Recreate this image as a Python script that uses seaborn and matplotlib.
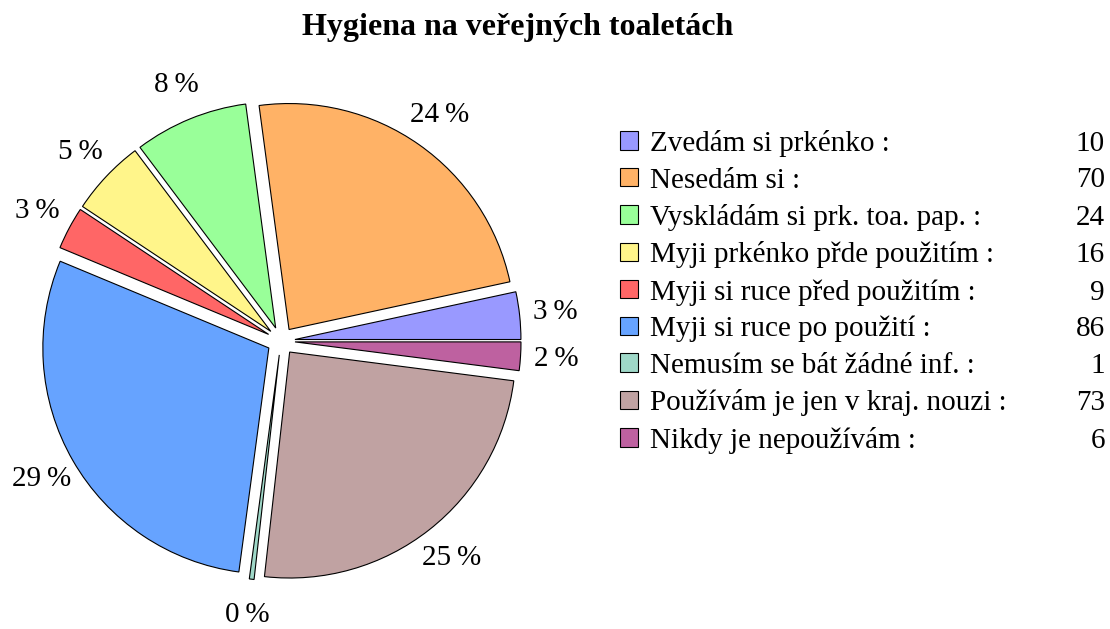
import matplotlib
matplotlib.use("Agg")
import matplotlib.pyplot as plt
import seaborn as sns

# Data
labels = [
    "Zvedám si prkénko :",
    "Nesedám si :",
    "Vyskládám si prk. toa. pap. :",
    "Myji prkénko přde použitím :",
    "Myji si ruce před použitím :",
    "Myji si ruce po použití :",
    "Nemusím se bát žádné inf. :",
    "Používám je jen v kraj. nouzi :",
    "Nikdy je nepoužívám :",
]
counts = [10, 70, 24, 16, 9, 86, 1, 73, 6]
colors = ["#9999ff", "#ffb266", "#99ff99", "#fff58a", "#ff6666",
          "#66a3ff", "#9fd8c8", "#c0a2a2", "#be61a0"]
title = "Hygiena na veřejných toaletách"

sns.set_theme(style="white")
plt.rcParams["font.family"] = ["Liberation Serif", "DejaVu Serif"]
plt.rcParams["text.color"] = "black"

FS = 21
W, H = 1110, 629
fig = plt.figure(figsize=(W / 100, H / 100), dpi=100)

# pie centre ~ (281, 341) px, radius ~ 226 px
R = 226.0
cx, cy = 281.0, H - 341.0
lim = 1.4
side = 2 * lim * R
ax = fig.add_axes([(cx - side / 2) / W, (cy - side / 2) / H, side / W, side / H])
ax.set_axis_off()

wedges, _, pct = ax.pie(
    counts,
    colors=colors,
    startangle=0,
    counterclock=True,
    explode=[0.062] * len(counts),
    autopct=lambda p: f"{p:.0f}\u2009%",
    pctdistance=1.16,
    wedgeprops=dict(edgecolor="black", linewidth=0.8),
    textprops=dict(fontsize=FS, color="black"),
)
ax.set_xlim(-lim, lim)
ax.set_ylim(-lim, lim)
ax.set_aspect("equal")

fig.text(518 / W, 1 - 28 / H, title, ha="center", va="center",
         fontsize=23, fontweight="bold", color="black")

leg = fig.legend(
    wedges, labels,
    loc="upper left",
    bbox_to_anchor=(620 / W, 1 - 130 / H),
    frameon=False,
    fontsize=FS,
    handlelength=0.6,
    handleheight=0.6,
    handletextpad=0.42,
    labelspacing=0.36,
    borderpad=0,
    borderaxespad=0,
)
for t in leg.get_texts():
    t.set_color("black")

fig.canvas.draw()
inv = fig.transFigure.inverted()
for t, n in zip(leg.get_texts(), counts):
    bb = t.get_window_extent()
    x0, y0 = inv.transform((1105, bb.y0))
    fig.text(x0, y0, str(n), ha="right", va="bottom", fontsize=FS, color="black")

fig.savefig("out.png", dpi=100, facecolor="white")
